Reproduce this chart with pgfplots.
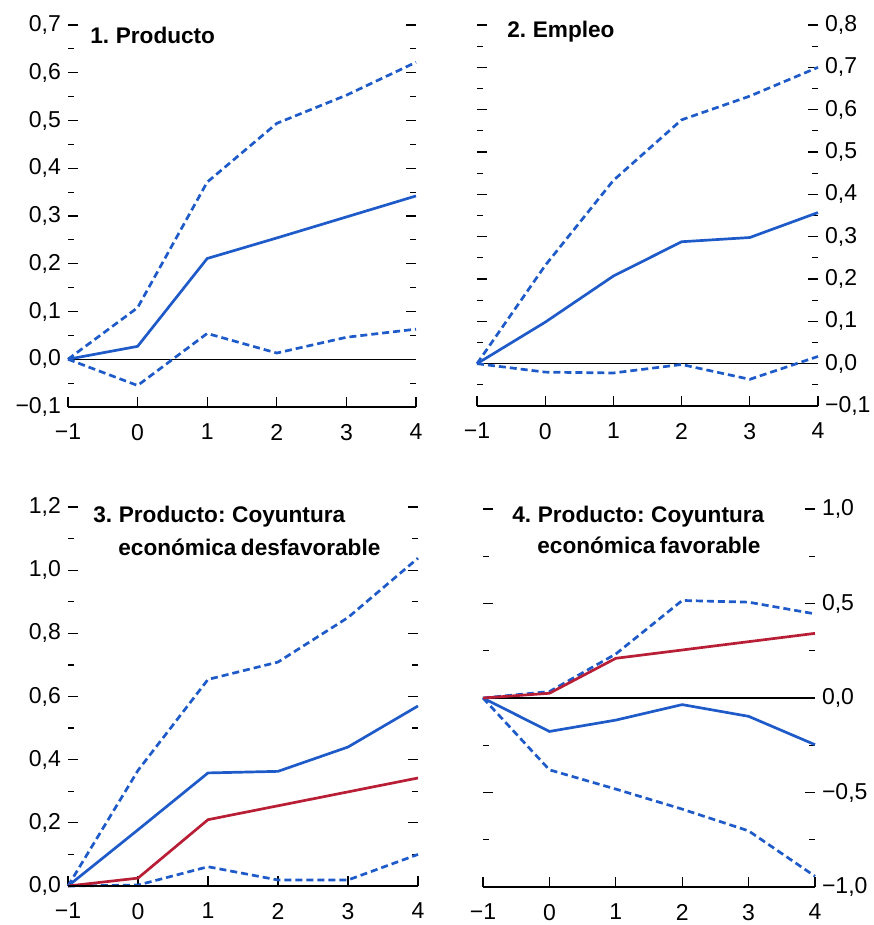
\documentclass[border=0pt]{standalone}
\usepackage{fontspec}
\setmainfont{Liberation Sans}
\usepackage{pgfplots}
\pgfplotsset{compat=1.18}

\definecolor{imfblue}{RGB}{30,90,200}
\definecolor{imfred}{RGB}{185,30,55}

\pgfplotsset{
  panel/.style={
    scale only axis,
    xmin=-1, xmax=4,
    xtick={-1,0,1,2,3,4},
    xticklabels={−1,0,1,2,3,4},
    axis line style={draw=none},
    xtick pos=left,
    ytick pos=both,
    tick align=inside,
    major tick length=5pt,
    minor tick length=3.2pt,
    tick style={black, line width=0.6pt},
    tick label style={font=\fontsize{11.5}{13}\selectfont},
    xticklabel style={yshift=-5pt},
    clip=false,
  },
  mid/.style={imfblue, line width=1.35pt},
  band/.style={imfblue, line width=1.35pt, dash pattern=on 3.5pt off 2pt},
  base/.style={imfred, line width=1.35pt},
  zero/.style={black, line width=0.6pt},
}
\newcommand{\xaxisline}{\draw[black, line width=0.7pt] (rel axis cs:0,0) -- (rel axis cs:1,0);}
\newcommand{\ttl}{\bfseries\fontsize{11.3}{14}\selectfont\spaceskip=0.2em plus 0.1em}

\begin{document}
\begin{tikzpicture}
\useasboundingbox (0,0) rectangle (436.5pt,462.5pt);

% 1. Producto
\begin{axis}[panel, at={(34pt,259pt)}, anchor=south west,
  width=174pt, height=191pt, ymin=-0.1, ymax=0.7,
  ytick={-0.1,0,0.1,0.2,0.3,0.4,0.5,0.6,0.7},
  yticklabels={{−0,1},{0,0},{0,1},{0,2},{0,3},{0,4},{0,5},{0,6},{0,7}},
  minor ytick={-0.05,0.05,0.15,0.25,0.35,0.45,0.55,0.65}]
\addplot [zero] coordinates {(-1,0) (4,0)};
\addplot [band] coordinates {(-1,0) (0,0.108) (1,0.371) (2,0.494) (3,0.553) (4,0.622)};
\addplot [band] coordinates {(-1,0) (0,-0.055) (1,0.054) (2,0.013) (3,0.046) (4,0.063)};
\addplot [mid] coordinates {(-1,0) (0,0.027) (1,0.211) (2,0.254) (3,0.298) (4,0.342)};
\xaxisline
\end{axis}

% 2. Empleo
\begin{axis}[panel, at={(238.5pt,259.5pt)}, anchor=south west,
  width=170.5pt, height=190.5pt, ymin=-0.1, ymax=0.8,
  yticklabel pos=right,
  ytick={-0.1,0,0.1,0.2,0.3,0.4,0.5,0.6,0.7,0.8},
  yticklabels={{−0,1},{0,0},{0,1},{0,2},{0,3},{0,4},{0,5},{0,6},{0,7},{0,8}},
  minor ytick={-0.05,0.05,0.15,0.25,0.35,0.45,0.55,0.65,0.75}]
\addplot [zero] coordinates {(-1,0) (4,0)};
\addplot [band] coordinates {(-1,0) (0,0.232) (1,0.433) (2,0.576) (3,0.632) (4,0.70)};
\addplot [band] coordinates {(-1,0) (0,-0.02) (1,-0.022) (2,-0.002) (3,-0.037) (4,0.017)};
\addplot [mid] coordinates {(-1,0) (0,0.098) (1,0.207) (2,0.288) (3,0.298) (4,0.357)};
\xaxisline
\end{axis}

% 3. Producto: coyuntura desfavorable
\begin{axis}[panel, at={(34pt,19.5pt)}, anchor=south west,
  width=175pt, height=189.5pt, ymin=0, ymax=1.2,
  ytick={0,0.2,0.4,0.6,0.8,1.0,1.2},
  yticklabels={{0,0},{0,2},{0,4},{0,6},{0,8},{1,0},{1,2}},
  minor ytick={0.1,0.3,0.5,0.7,0.9,1.1}]
\addplot [band] coordinates {(-1,0) (0,0.366) (1,0.654) (2,0.709) (3,0.85) (4,1.038)};
\addplot [band] coordinates {(-1,0) (0,0.003) (1,0.061) (2,0.019) (3,0.019) (4,0.10)};
\addplot [mid] coordinates {(-1,0) (0,0.178) (1,0.358) (2,0.363) (3,0.44) (4,0.57)};
\addplot [base] coordinates {(-1,0) (0,0.025) (1,0.21) (2,0.254) (3,0.298) (4,0.342)};
\xaxisline
\end{axis}

% 4. Producto: coyuntura favorable
\begin{axis}[panel, at={(241.5pt,19pt)}, anchor=south west,
  width=166pt, height=189pt, ymin=-1, ymax=1,
  yticklabel pos=right,
  ytick={-1,-0.5,0,0.5,1},
  yticklabels={{−1,0},{−0,5},{0,0},{0,5},{1,0}},
  minor ytick={-0.75,-0.25,0.25,0.75}]
\addplot [zero] coordinates {(-1,0) (4,0)};
\addplot [band] coordinates {(-1,0) (0,0.034) (1,0.233) (2,0.516) (3,0.507) (4,0.445)};
\addplot [band] coordinates {(-1,0) (0,-0.38) (1,-0.482) (2,-0.588) (3,-0.703) (4,-0.943)};
\addplot [mid] coordinates {(-1,0) (0,-0.177) (1,-0.117) (2,-0.035) (3,-0.097) (4,-0.247)};
\addplot [base] coordinates {(-1,0) (0,0.025) (1,0.21) (2,0.254) (3,0.298) (4,0.342)};
\xaxisline
\end{axis}

% panel titles
\node[anchor=west, inner sep=0pt] at (45pt,445pt) {\ttl 1. Producto};
\node[anchor=west, inner sep=0pt] at (253.5pt,446.5pt) {\ttl 2. Empleo};
\node[anchor=west, inner sep=0pt] at (46.5pt,204pt) {\ttl 3. Producto: Coyuntura};
\node[anchor=west, inner sep=0pt] at (59pt,189pt) {\ttl económica desfavorable};
\node[anchor=west, inner sep=0pt] at (256pt,204pt) {\ttl 4. Producto: Coyuntura};
\node[anchor=west, inner sep=0pt] at (268.5pt,190pt) {\ttl económica favorable};
\end{tikzpicture}
\end{document}
